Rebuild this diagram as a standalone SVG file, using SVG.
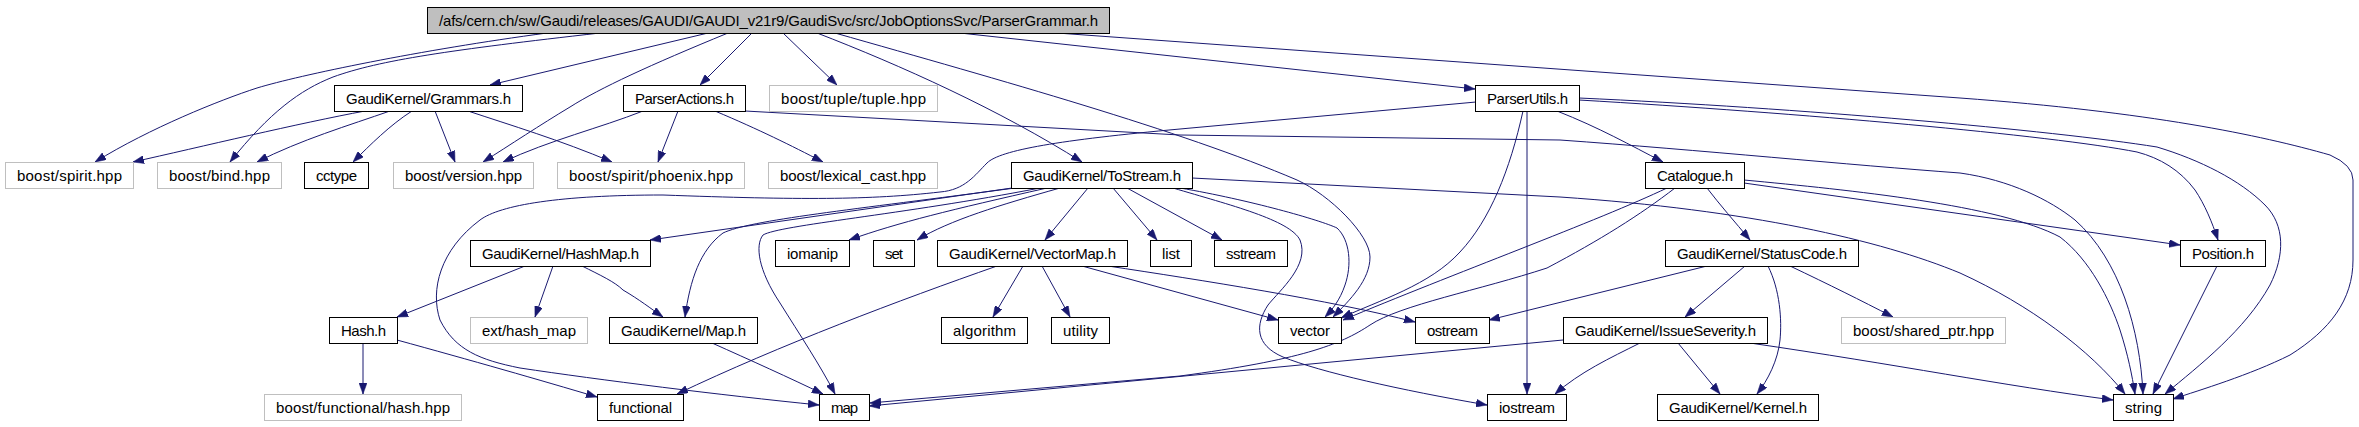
<svg xmlns="http://www.w3.org/2000/svg" width="2359" height="427" viewBox="0 0 2359 427">
<defs>
<style>
.n rect{fill:#fff;stroke:#000;stroke-width:1}
.g rect{fill:#fff;stroke:#bfbfbf;stroke-width:1}
.r rect{fill:#bfbfbf;stroke:#000;stroke-width:1}
text{font-family:"Liberation Sans",Arial,sans-serif;font-size:15px;fill:#000;text-anchor:middle}
#edges path{fill:none;stroke:#191970;stroke-width:1;marker-end:url(#a)}
</style>
<marker id="a" markerWidth="11" markerHeight="8" refX="11" refY="4" orient="auto" markerUnits="userSpaceOnUse"><path d="M0,0 L11,4 L0,8 z" fill="#191970" stroke="#191970" stroke-width="0.5"/></marker>
</defs>
<rect width="2359" height="427" fill="#fff"/>
<g id="edges">
<path d="M547,33 C420,50 300,75 257,88 C220,100 150,128 95,162"/>
<path d="M600,33 C450,50 380,60 333,77 C300,90 270,112 230,162"/>
<path d="M708,33 L490,85"/>
<path d="M728,33 C650,65 600,88 570,107 C540,125 510,145 483,162"/>
<path d="M752,33 L700,85"/>
<path d="M783,33 L837,85"/>
<path d="M817,33 C900,65 1000,110 1082,162"/>
<path d="M835,33 C1000,80 1180,130 1297,180 C1330,195 1370,235 1370,257 C1370,280 1350,300 1333,317"/>
<path d="M960,33 L1475,89"/>
<path d="M1057,33 L1960,98 C2150,112 2260,135 2330,155 Q2353,165 2353,180 L2353,260 C2353,300 2330,330 2290,355 C2250,375 2200,390 2173,399"/>
<path d="M365,111 C300,123 200,147 133,162"/>
<path d="M390,111 C350,125 300,140 257,162"/>
<path d="M412,111 C390,125 370,145 353,162"/>
<path d="M435,111 L455,162"/>
<path d="M468,111 C510,125 560,140 612,162"/>
<path d="M643,111 C600,128 550,140 503,162"/>
<path d="M678,111 L658,162"/>
<path d="M715,111 C760,130 790,145 823,162"/>
<path d="M745,111 L1180,135 L1560,140 C1700,150 1850,165 1960,173 C2010,180 2050,200 2075,220 C2120,260 2140,330 2143,394"/>
<path d="M1012,188 L650,240"/>
<path d="M1015,188 C850,210 750,220 723,233 C700,250 690,280 685,317"/>
<path d="M1040,188 C900,215 780,225 763,235 C755,245 758,270 780,303 C800,335 820,365 835,394"/>
<path d="M1047,188 C950,210 900,222 849,240"/>
<path d="M1060,188 C1000,205 950,220 917,240"/>
<path d="M1088,188 L1045,240"/>
<path d="M1113,188 L1157,240"/>
<path d="M1127,188 L1222,240"/>
<path d="M1180,188 C1250,200 1320,220 1337,228 C1350,240 1352,265 1345,285 C1340,300 1332,310 1325,317"/>
<path d="M1173,188 C1230,205 1290,220 1300,240 C1310,265 1280,290 1268,305 C1255,325 1255,345 1283,357 C1320,372 1400,390 1487,405"/>
<path d="M1192,178 L1560,197 C1750,210 1880,240 1960,273 C2030,305 2090,350 2125,394"/>
<path d="M997,266 C900,300 780,345 677,394"/>
<path d="M1023,266 L993,317"/>
<path d="M1042,266 L1070,317"/>
<path d="M1082,266 L1278,320"/>
<path d="M1108,266 C1200,280 1330,300 1415,322"/>
<path d="M525,266 L397,317"/>
<path d="M553,266 L535,317"/>
<path d="M582,266 C600,275 615,282 623,290 C640,300 650,308 663,317"/>
<path d="M363,343 L363,394"/>
<path d="M397,340 C470,360 540,380 597,397"/>
<path d="M712,343 C750,360 790,378 823,394"/>
<path d="M1476,102 L1180,129 C1060,140 1000,150 987,163 C975,175 965,190 940,192 C870,200 800,200 663,195 C560,195 500,205 480,220 C440,250 430,290 440,320 C455,350 480,360 520,368 C600,380 720,395 819,405"/>
<path d="M1523,111 C1510,170 1490,220 1460,252 C1430,285 1380,300 1341,318"/>
<path d="M1527,111 L1527,394"/>
<path d="M1557,111 C1600,128 1630,145 1663,162"/>
<path d="M1579,100 C1800,113 2050,135 2137,152 C2160,158 2180,170 2195,190 C2205,205 2212,222 2218,240"/>
<path d="M1579,98 C1800,108 2050,130 2157,147 C2200,160 2240,180 2265,205 C2285,225 2285,255 2270,285 C2245,330 2200,365 2165,394"/>
<path d="M1667,188 C1600,220 1450,275 1343,320"/>
<path d="M1675,188 C1640,215 1600,240 1547,268 C1480,290 1400,305 1370,325 C1340,345 1300,360 1180,376 L870,403"/>
<path d="M1707,188 C1720,205 1735,222 1750,240"/>
<path d="M1744,183 L2180,245"/>
<path d="M1744,180 C1850,190 2000,205 2060,237 C2090,260 2110,300 2120,330 C2128,355 2132,375 2135,394"/>
<path d="M1707,266 L1489,320"/>
<path d="M1745,266 L1685,317"/>
<path d="M1768,266 C1780,290 1782,320 1780,340 C1778,360 1768,380 1757,394"/>
<path d="M1790,266 C1830,285 1860,300 1893,317"/>
<path d="M1563,340 L869,406"/>
<path d="M1640,343 C1610,358 1580,372 1555,394"/>
<path d="M1678,343 L1720,394"/>
<path d="M1750,343 C1900,365 2000,385 2113,400"/>
<path d="M2217,266 L2153,394"/>
</g>
<g id="n_top" class="r"><rect x="427.5" y="7.5" width="682" height="26"/><text x="768.5" y="25.5" textLength="659" lengthAdjust="spacing">/afs/cern.ch/sw/Gaudi/releases/GAUDI/GAUDI_v21r9/GaudiSvc/src/JobOptionsSvc/ParserGrammar.h</text></g>
<g id="n_grammars" class="n"><rect x="334.5" y="85.5" width="188" height="26"/><text x="428.5" y="103.5" textLength="165" lengthAdjust="spacing">GaudiKernel/Grammars.h</text></g>
<g id="n_parseractions" class="n"><rect x="623.5" y="85.5" width="122" height="26"/><text x="684.5" y="103.5" textLength="99" lengthAdjust="spacing">ParserActions.h</text></g>
<g id="n_tuple" class="g"><rect x="769.5" y="85.5" width="168" height="26"/><text x="853.5" y="103.5" textLength="145" lengthAdjust="spacing">boost/tuple/tuple.hpp</text></g>
<g id="n_parserutils" class="n"><rect x="1475.5" y="85.5" width="104" height="26"/><text x="1527.5" y="103.5" textLength="81" lengthAdjust="spacing">ParserUtils.h</text></g>
<g id="n_spirit" class="g"><rect x="5.5" y="162.5" width="128" height="26"/><text x="69.5" y="180.5" textLength="105" lengthAdjust="spacing">boost/spirit.hpp</text></g>
<g id="n_bind" class="g"><rect x="157.5" y="162.5" width="124" height="26"/><text x="219.5" y="180.5" textLength="101" lengthAdjust="spacing">boost/bind.hpp</text></g>
<g id="n_cctype" class="n"><rect x="304.5" y="162.5" width="64" height="26"/><text x="336.5" y="180.5" textLength="41" lengthAdjust="spacing">cctype</text></g>
<g id="n_version" class="g"><rect x="393.5" y="162.5" width="140" height="26"/><text x="463.5" y="180.5" textLength="117" lengthAdjust="spacing">boost/version.hpp</text></g>
<g id="n_phoenix" class="g"><rect x="557.5" y="162.5" width="187" height="26"/><text x="651" y="180.5" textLength="164" lengthAdjust="spacing">boost/spirit/phoenix.hpp</text></g>
<g id="n_lexical" class="g"><rect x="768.5" y="162.5" width="169" height="26"/><text x="853" y="180.5" textLength="146" lengthAdjust="spacing">boost/lexical_cast.hpp</text></g>
<g id="n_tostream" class="n"><rect x="1011.5" y="162.5" width="181" height="26"/><text x="1102" y="180.5" textLength="158" lengthAdjust="spacing">GaudiKernel/ToStream.h</text></g>
<g id="n_catalogue" class="n"><rect x="1645.5" y="162.5" width="99" height="26"/><text x="1695" y="180.5" textLength="76" lengthAdjust="spacing">Catalogue.h</text></g>
<g id="n_hashmap" class="n"><rect x="470.5" y="240.5" width="180" height="26"/><text x="560.5" y="258.5" textLength="157" lengthAdjust="spacing">GaudiKernel/HashMap.h</text></g>
<g id="n_iomanip" class="n"><rect x="775.5" y="240.5" width="74" height="26"/><text x="812.5" y="258.5" textLength="51" lengthAdjust="spacing">iomanip</text></g>
<g id="n_set" class="n"><rect x="873.5" y="240.5" width="41" height="26"/><text x="894" y="258.5" textLength="18" lengthAdjust="spacing">set</text></g>
<g id="n_vectormap" class="n"><rect x="937.5" y="240.5" width="190" height="26"/><text x="1032.5" y="258.5" textLength="167" lengthAdjust="spacing">GaudiKernel/VectorMap.h</text></g>
<g id="n_list" class="n"><rect x="1150.5" y="240.5" width="41" height="26"/><text x="1171" y="258.5" textLength="18" lengthAdjust="spacing">list</text></g>
<g id="n_sstream" class="n"><rect x="1214.5" y="240.5" width="73" height="26"/><text x="1251" y="258.5" textLength="50" lengthAdjust="spacing">sstream</text></g>
<g id="n_statuscode" class="n"><rect x="1665.5" y="240.5" width="193" height="26"/><text x="1762" y="258.5" textLength="170" lengthAdjust="spacing">GaudiKernel/StatusCode.h</text></g>
<g id="n_position" class="n"><rect x="2180.5" y="240.5" width="85" height="26"/><text x="2223" y="258.5" textLength="62" lengthAdjust="spacing">Position.h</text></g>
<g id="n_hash" class="n"><rect x="329.5" y="317.5" width="68" height="26"/><text x="363.5" y="335.5" textLength="45" lengthAdjust="spacing">Hash.h</text></g>
<g id="n_exthashmap" class="g"><rect x="470.5" y="317.5" width="117" height="26"/><text x="529" y="335.5" textLength="94" lengthAdjust="spacing">ext/hash_map</text></g>
<g id="n_maph" class="n"><rect x="609.5" y="317.5" width="148" height="26"/><text x="683.5" y="335.5" textLength="125" lengthAdjust="spacing">GaudiKernel/Map.h</text></g>
<g id="n_algorithm" class="n"><rect x="941.5" y="317.5" width="86" height="26"/><text x="984.5" y="335.5" textLength="63" lengthAdjust="spacing">algorithm</text></g>
<g id="n_utility" class="n"><rect x="1051.5" y="317.5" width="58" height="26"/><text x="1080.5" y="335.5" textLength="35" lengthAdjust="spacing">utility</text></g>
<g id="n_vector" class="n"><rect x="1278.5" y="317.5" width="63" height="26"/><text x="1310" y="335.5" textLength="40" lengthAdjust="spacing">vector</text></g>
<g id="n_ostream" class="n"><rect x="1415.5" y="317.5" width="74" height="26"/><text x="1452.5" y="335.5" textLength="51" lengthAdjust="spacing">ostream</text></g>
<g id="n_issueseverity" class="n"><rect x="1563.5" y="317.5" width="204" height="26"/><text x="1665.5" y="335.5" textLength="181" lengthAdjust="spacing">GaudiKernel/IssueSeverity.h</text></g>
<g id="n_sharedptr" class="g"><rect x="1841.5" y="317.5" width="164" height="26"/><text x="1923.5" y="335.5" textLength="141" lengthAdjust="spacing">boost/shared_ptr.hpp</text></g>
<g id="n_functionalhash" class="g"><rect x="264.5" y="394.5" width="197" height="26"/><text x="363" y="412.5" textLength="174" lengthAdjust="spacing">boost/functional/hash.hpp</text></g>
<g id="n_functional" class="n"><rect x="597.5" y="394.5" width="86" height="26"/><text x="640.5" y="412.5" textLength="63" lengthAdjust="spacing">functional</text></g>
<g id="n_map" class="n"><rect x="819.5" y="394.5" width="50" height="26"/><text x="844.5" y="412.5" textLength="27" lengthAdjust="spacing">map</text></g>
<g id="n_iostream" class="n"><rect x="1487.5" y="394.5" width="79" height="26"/><text x="1527" y="412.5" textLength="56" lengthAdjust="spacing">iostream</text></g>
<g id="n_kernel" class="n"><rect x="1657.5" y="394.5" width="161" height="26"/><text x="1738" y="412.5" textLength="138" lengthAdjust="spacing">GaudiKernel/Kernel.h</text></g>
<g id="n_string" class="n"><rect x="2113.5" y="394.5" width="60" height="26"/><text x="2143.5" y="412.5" textLength="37" lengthAdjust="spacing">string</text></g>
</svg>
